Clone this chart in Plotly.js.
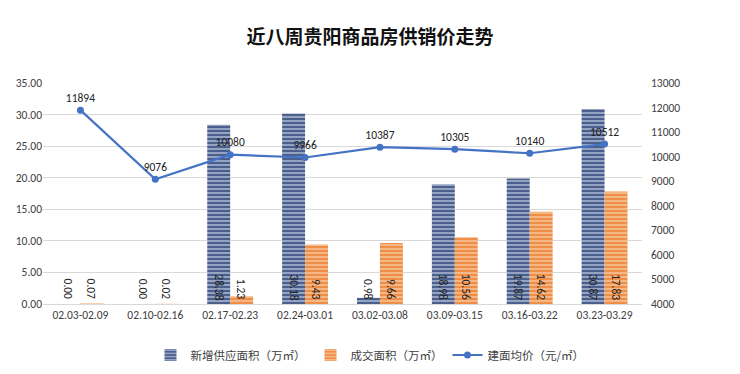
<!DOCTYPE html>
<html><head><meta charset="utf-8">
<script src="https://cdn.plot.ly/plotly-3.0.1.min.js"></script>
<style>html,body{margin:0;padding:0;background:#fff}#chart{width:740px;height:374px}</style>
</head><body><div id="chart"></div>
<script>
const weeks = ['02.03-02.09','02.10-02.16','02.17-02.23','02.24-03.01','03.02-03.08','03.09-03.15','03.16-03.22','03.23-03.29'];
const supplyArea = [0.00, 0.00, 28.38, 30.18, 0.98, 18.98, 19.87, 30.87];
const soldArea = [0.07, 0.02, 1.23, 9.43, 9.66, 10.56, 14.62, 17.83];
const avgPrice = [11894, 9076, 10080, 9966, 10387, 10305, 10140, 10512];

const font = 'Calibri, Carlito, "Noto Sans CJK SC", "Liberation Sans", sans-serif';
const cjk = '"Noto Sans CJK SC", sans-serif';

const traces = [
  {type:'bar', name:'新增供应面积（万㎡）', x:weeks, y:supplyArea, yaxis:'y',
   marker:{color:'#4d6394', line:{width:0},
     pattern:{shape:'-', bgcolor:'#4a5f8c', fgcolor:'#b3c0d8', size:4, solidity:0.35}},
   hoverinfo:'skip'},
  {type:'bar', name:'成交面积（万㎡）', x:weeks, y:soldArea, yaxis:'y',
   marker:{color:'#f09a56', line:{width:0},
     pattern:{shape:'-', bgcolor:'#ef8f47', fgcolor:'#f9c9a3', size:4, solidity:0.35}},
   hoverinfo:'skip'},
  {type:'scatter', mode:'lines+markers+text', name:'建面均价（元/㎡）', x:weeks, y:avgPrice, yaxis:'y2',
   line:{color:'#4472c4', width:2.2}, marker:{color:'#4472c4', size:7},
   text:avgPrice.map(String), textposition:'top center',
   textfont:{family:font, size:11.5, color:'#222'}, hoverinfo:'skip'}
];

const annotations = [];
weeks.forEach((w,i)=>{
  annotations.push({x:w, y:0, xref:'x', yref:'y', text:supplyArea[i].toFixed(2), showarrow:false,
    textangle:90, xshift:-11.5, yanchor:'bottom', yshift:2, font:{family:font, size:11.5, color:'#222'}});
  annotations.push({x:w, y:0, xref:'x', yref:'y', text:soldArea[i].toFixed(2), showarrow:false,
    textangle:90, xshift:11.5, yanchor:'bottom', yshift:2, font:{family:font, size:11.5, color:'#222'}});
});

const layout = {
  width:740, height:374,
  margin:{l:43, r:98, t:83, b:70, autoexpand:false},
  paper_bgcolor:'#fff', plot_bgcolor:'#fff',
  title:{text:'<b>近八周贵阳商品房供销价走势</b>', font:{family:cjk, size:19, color:'#111'}, x:0.5, xanchor:'center', y:0.9, yanchor:'middle'},
  barmode:'group', bargap:0.387, bargroupgap:0,
  xaxis:{type:'category', showgrid:false, showline:true, linecolor:'#d9d9d9', ticks:'',
    tickfont:{family:font, size:11.5, color:'#404040'}, fixedrange:true},
  yaxis:{range:[0,35], dtick:5, tickformat:'.2f', showgrid:true, gridcolor:'#d9d9d9', zeroline:false,
    tickfont:{family:font, size:11.5, color:'#404040'}, ticks:'', ticklen:0},
  yaxis2:{range:[4000,13000], dtick:1000, tickformat:'d', overlaying:'y', side:'right', showgrid:false, zeroline:false,
    tickfont:{family:font, size:11.5, color:'#404040'}, ticklabelstandoff:8},
  legend:{orientation:'h', x:0.5, xanchor:'center', xref:'container', y:19/374, yanchor:'middle', yref:'container',
    font:{family:cjk, size:11.5, color:'#404040'}, itemwidth:30, traceorder:'normal'},
  annotations:annotations,
  showlegend:true
};
Plotly.newPlot('chart', traces, layout, {staticPlot:true});
</script></body></html>
